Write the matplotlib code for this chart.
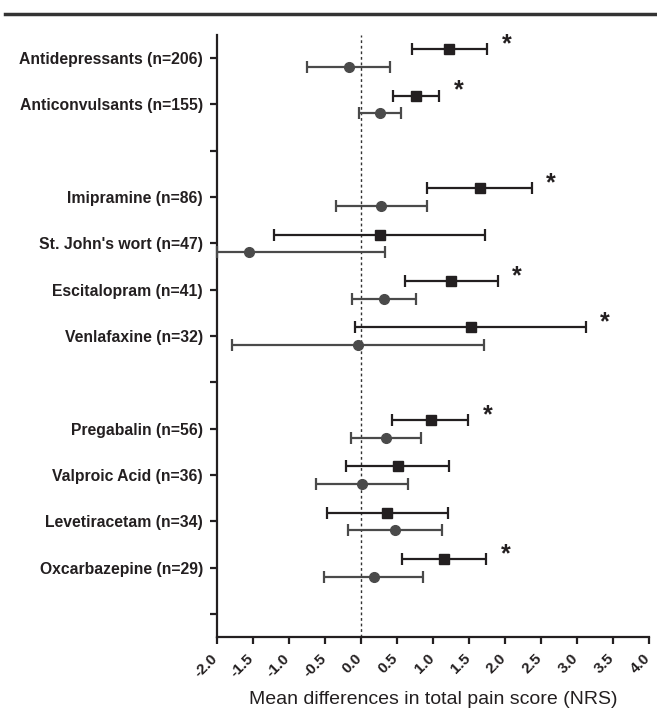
import numpy as np
import matplotlib.pyplot as plt
from matplotlib.transforms import ScaledTranslation

# Row labels, top to bottom ('' = empty spacer row)
labels = ['Antidepressants (n=206)', 'Anticonvulsants (n=155)', '',
          'Imipramine (n=86)', "St. John's wort (n=47)", 'Escitalopram (n=41)',
          'Venlafaxine (n=32)', '',
          'Pregabalin (n=56)', 'Valproic Acid (n=36)', 'Levetiracetam (n=34)',
          'Oxcarbazepine (n=29)', '']

# rows that carry data
rows = [0, 1, 3, 4, 5, 6, 8, 9, 10, 11]

# square series (mean, lower, upper)
sq_mean = [1.23, 0.76, 1.65, 0.26, 1.255, 1.525, 0.97, 0.51, 0.36, 1.15]
sq_low = [0.71, 0.45, 0.925, -1.20, 0.62, -0.08, 0.44, -0.20, -0.47, 0.57]
sq_high = [1.75, 1.09, 2.37, 1.73, 1.90, 3.12, 1.49, 1.23, 1.21, 1.74]

# circle series (mean, lower, upper)
ci_mean = [-0.17, 0.27, 0.28, -1.55, 0.325, -0.04, 0.35, 0.01, 0.48, 0.18]
ci_low = [-0.75, -0.02, -0.35, -2.0, -0.125, -1.79, -0.13, -0.62, -0.18, -0.51]
ci_high = [0.40, 0.56, 0.92, 0.34, 0.77, 1.71, 0.84, 0.65, 1.13, 0.87]

# significance marker for the square series
significant = [True, True, True, False, True, True, True, False, False, True]

xticks = [-2.0, -1.5, -1.0, -0.5, 0.0, 0.5, 1.0, 1.5, 2.0, 2.5, 3.0, 3.5, 4.0]

plt.rcParams['font.family'] = ['Liberation Sans', 'DejaVu Sans']

fig = plt.figure(figsize=(6.57, 7.10), dpi=100)
ax = fig.add_axes([0.3298, 0.1024, 0.6580, 0.8483])

rows = np.array(rows)
sq_mean = np.array(sq_mean)
ci_mean = np.array(ci_mean)
off = 0.19

ax.axvline(0, color='#333333', lw=1, ls=(0, (2, 2)), zorder=0)

ax.errorbar(ci_mean, rows + off,
            xerr=[ci_mean - np.array(ci_low), np.array(ci_high) - ci_mean],
            fmt='o', color='#4a4a4a', ms=7, elinewidth=1.6, capsize=4,
            capthick=1.6, clip_on=False, zorder=3)
ax.errorbar(sq_mean, rows - off,
            xerr=[sq_mean - np.array(sq_low), np.array(sq_high) - sq_mean],
            fmt='s', color='#231f20', ms=7, elinewidth=1.6, capsize=4,
            capthick=1.6, clip_on=False, zorder=3)

for r, hi, sig in zip(rows, sq_high, significant):
    if sig:
        ax.text(hi + 0.27, r - 0.30, '*', fontsize=18, fontweight='bold',
                ha='center', va='center', color='#231f20')

ax.set_xlim(-2.0, 4.0)
ax.set_ylim(12.5, -0.5)
ax.set_yticks(range(len(labels)))
ax.set_yticklabels(labels, fontsize=11.3, fontweight='bold', color='#231f20')
ax.set_xticks(xticks)
ax.set_xticklabels([f'{t:.1f}' for t in xticks], rotation=45, ha='right',
                   rotation_mode='anchor', fontsize=11, fontweight='bold',
                   color='#231f20')
ax.set_xlabel('Mean differences in total pain score (NRS)', fontsize=14,
              color='#231f20', labelpad=8)

for s in ['top', 'right']:
    ax.spines[s].set_visible(False)
for s in ['left', 'bottom']:
    ax.spines[s].set_linewidth(1.6)
    ax.spines[s].set_color('#231f20')
ax.tick_params(axis='both', width=1.6, length=5, color='#231f20')
ax.tick_params(axis='y', pad=5)
ax.tick_params(axis='x', pad=5)

# nudge the rotated tick labels left so the last one stays inside
shift = ScaledTranslation(-6 / 100, 0, fig.dpi_scale_trans)
for lab in ax.get_xticklabels():
    lab.set_transform(lab.get_transform() + shift)

# thick rule across the top
fig.add_artist(plt.Line2D([0.008, 1.0], [0.980, 0.980], color='#333333', lw=2.5))

plt.savefig('out.png', dpi=100)
